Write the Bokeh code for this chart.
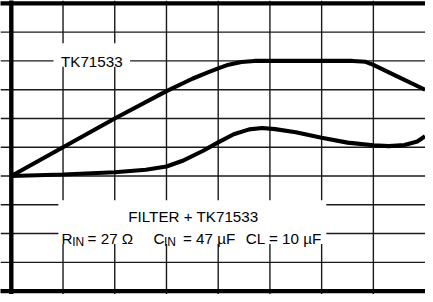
from bokeh.plotting import figure
from bokeh.models import Range1d, Span
from bokeh.core.properties import value
from bokeh.embed import file_html
from bokeh.resources import INLINE

# ---- data (divisions: x 0..8, y 0..10) ----
tk_x = [0.0, 1.0, 2.0, 3.0, 3.5, 3.8, 4.0, 4.2, 4.45, 4.7, 5.0, 6.0, 6.6, 6.85, 7.0, 7.5, 8.0]
tk_y = [4.0, 5.0, 6.0, 6.95, 7.38, 7.6, 7.74, 7.87, 7.96, 8.0, 8.0, 8.0, 8.0, 7.97, 7.86, 7.43, 7.0]

flt_x = [0.0, 1.0, 2.0, 2.6, 3.0, 3.3, 3.7, 4.0, 4.3, 4.6, 4.85, 5.1, 5.5, 6.0, 6.5, 7.0, 7.3, 7.6, 7.85, 8.0]
flt_y = [4.0, 4.05, 4.13, 4.22, 4.33, 4.52, 4.87, 5.17, 5.45, 5.62, 5.67, 5.63, 5.52, 5.33, 5.16, 5.07, 5.04, 5.08, 5.2, 5.38]

grid_x = [1, 2, 3, 4, 5, 6, 7]
grid_y = [1, 2, 3, 4, 5, 6, 7, 8, 9]

label_top = "TK71533"
label_l1 = "FILTER + TK71533"
main_pieces = ["R", "= 27 Ω", "C", "= 47 µF", "CL = 10 µF"]
sub_pieces = ["IN", "IN"]

FONT = value("Liberation Sans")

p = figure(width=425, height=294, output_backend="svg", toolbar_location=None,
           x_range=Range1d(-0.209, 8.008), y_range=Range1d(-0.118, 10.10),
           x_axis_location=None, y_axis_location=None,
           min_border_left=0, min_border_right=0, min_border_top=0, min_border_bottom=0)
p.xgrid.visible = False
p.ygrid.visible = False
p.outline_line_color = None
p.background_fill_color = "white"

for gx in grid_x:
    p.add_layout(Span(location=gx, dimension="height", line_color="#1a1a1a",
                      line_width=1.4, level="underlay"))
for gy in grid_y:
    p.add_layout(Span(location=gy, dimension="width", line_color="#1a1a1a",
                      line_width=1.4, level="underlay"))

# white label boxes cutting the grid
p.quad(left=[0.816, 0.91], right=[2.296, 6.09], bottom=[7.80, 1.64], top=[8.61, 3.16],
       fill_color="white", line_color=None)

# frame borders (left, bottom, top)
p.segment(x0=[0.0, -0.3, -0.3], y0=[-0.3, 0.0, 10.0], x1=[0.0, 8.1, 8.1], y1=[10.2, 0.0, 10.0],
          line_color="black", line_width=4.4)

# curves
p.line(tk_x, tk_y, line_color="black", line_width=4.1)
p.line(flt_x, flt_y, line_color="black", line_width=4.1)

# texts
p.text(x=[1.556], y=[7.98], text=[label_top], text_font=FONT, text_font_size=value("15.2px"),
       text_align="center", text_baseline="alphabetic", text_color="black")
p.text(x=[3.52], y=[2.59], text=[label_l1], text_font=FONT, text_font_size=value("15.2px"),
       text_align="center", text_baseline="alphabetic", text_color="black")

main_x = [0.968, 1.475, 2.751, 3.32, 4.535]
p.text(x=main_x, y=[1.83] * len(main_x), text=main_pieces, text_font=FONT,
       text_font_size=value("15.2px"), text_align="left", text_baseline="alphabetic",
       text_color="black")
sub_x = [1.176, 2.951]
p.text(x=sub_x, y=[1.72] * 2, text=sub_pieces, text_font=FONT,
       text_font_size=value("12px"), text_align="left", text_baseline="alphabetic",
       text_color="black")

open("out.html", "w").write(file_html(p, INLINE))
